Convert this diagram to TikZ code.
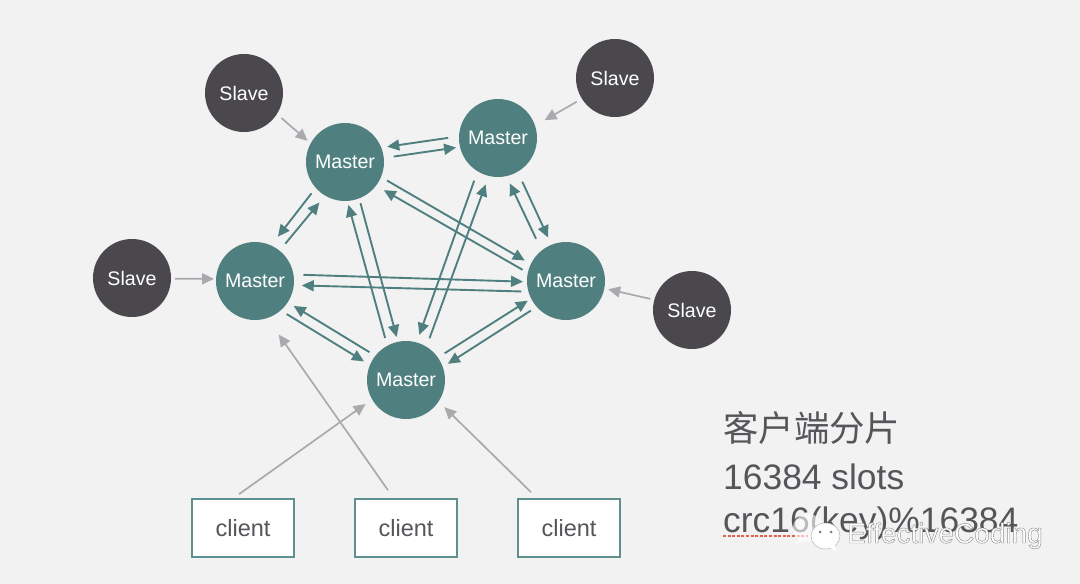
\documentclass[tikz,border=0pt]{standalone}
\usepackage{fontspec}
\setmainfont{Liberation Sans}
\newfontfamily\cjk{Noto Sans CJK SC}
\usetikzlibrary{arrows.meta}
\definecolor{pagebg}{HTML}{F2F2F2}
\definecolor{masterteal}{HTML}{507F80}
\definecolor{slavedark}{HTML}{4A484C}
\definecolor{feedgrey}{HTML}{ABA9AE}
\definecolor{notegrey}{HTML}{55555A}
\definecolor{boxteal}{HTML}{5F8F8F}
\definecolor{squiggle}{HTML}{E8604C}
\tikzset{
	master/.style={circle, fill=masterteal, text=white, minimum size=78pt, inner sep=0pt, outer sep=2pt, text depth=0pt, font=\fontsize{19.6}{22}\selectfont},
	slave/.style={circle, fill=slavedark, text=white, minimum size=78pt, inner sep=0pt, outer sep=2pt, font=\fontsize{19.6}{22}\selectfont},
	clientbox/.style={rectangle, draw=boxteal, fill=white, line width=1.6pt, text=notegrey, minimum width=102pt, minimum height=58pt, inner sep=0pt, font=\fontsize{23.5}{26}\selectfont},
	sync/.style={draw=masterteal, line width=1.9pt, -{Triangle[length=12pt,width=11pt]}},
	feed/.style={draw=feedgrey, line width=1.7pt, -{Triangle[length=12pt,width=11pt]}},
	note/.style={text=notegrey, anchor=base west, inner sep=0pt, font=\fontsize{35.4}{40}\selectfont},
}
\begin{document}
\begin{tikzpicture}[x=1pt, y=-1pt]
	\fill[pagebg] (0, 0) rectangle (1080, 584);
	\useasboundingbox (0, 0) rectangle (1080, 584);

	\node[master] (m1) at (345, 162) {Master};
	\node[master] (m2) at (498, 138) {Master};
	\node[master] (m3) at (255, 281) {Master};
	\node[master] (m4) at (566, 281) {Master};
	\node[master] (m5) at (406, 380) {Master};

	\node[slave] (s1) at (244, 93) {Slave};
	\node[slave] (s2) at (615, 78) {Slave};
	\node[slave] (s3) at (132, 278) {Slave};
	\node[slave] (s4) at (692, 310) {Slave};

	\node[clientbox] (c1) at (243, 528) {client};
	\node[clientbox] (c2) at (406, 528) {client};
	\node[clientbox] (c3) at (569, 528) {client};

	% master pairs
	\draw[sync, shorten <=9pt, shorten >=4pt] (m2.178) -- (m1.21);
	\draw[sync, shorten <=8pt, shorten >=2pt] (m1.6) -- (m2.193);
	\draw[sync, shorten <=5pt, shorten >=9pt] (m1.222) -- (m3.65);
	\draw[sync, shorten <=7pt, shorten >=7pt] (m3.51) -- (m1.239);
	\draw[sync, shorten <=5pt, shorten >=5pt] (m1.337) -- (m4.154);
	\draw[sync, shorten <=4pt, shorten >=7pt] (m4.167) -- (m1.323);
	\draw[sync, shorten <=6pt, shorten >=2pt] (m5.118) -- (m1.274);
	\draw[sync, shorten <=3pt, shorten >=3pt] (m1.291) -- (m5.102);
	\draw[sync, shorten <=8pt, shorten >=6pt] (m2.239) -- (m5.74);
	\draw[sync, shorten <=7pt, shorten >=7pt] (m5.59) -- (m2.256);
	\draw[sync, shorten <=9pt, shorten >=6pt] (m2.300) -- (m4.112);
	\draw[sync, shorten <=11pt, shorten >=6pt] (m4.128) -- (m2.283);
	\draw[sync, shorten <=8pt, shorten >=2pt] (m3.9) -- (m4.181);
	\draw[sync, shorten <=5pt, shorten >=6pt] (m4.195) -- (m3.354);
	\draw[sync, shorten <=5pt, shorten >=5pt] (m3.312) -- (m5.157);
	\draw[sync, shorten <=5pt, shorten >=5pt] (m5.142) -- (m3.327);
	\draw[sync, shorten <=6pt, shorten >=2pt] (m5.35) -- (m4.207);
	\draw[sync, shorten <=5pt, shorten >=4pt] (m4.221) -- (m5.20);

	% slaves and clients
	\draw[feed, shorten <=4pt, shorten >=2pt] (s1.327) -- (m1.151);
	\draw[feed, shorten <=4pt, shorten >=9pt] (s2.212) -- (m2.19);
	\draw[feed, shorten <=2pt] (s3.359) -- (m3.177);
	\draw[feed, shorten <=2pt, shorten >=2pt] (s4.165) -- (m4.349);
	\draw[feed, shorten >=6pt] ([shift={(-4, -4)}]c1.north) -- (m5.210);
	\draw[feed, shorten >=18pt] ([shift={(-18, -8)}]c2.north) -- (m3.289);
	\draw[feed, shorten >=6pt] ([shift={(-38, -6)}]c3.north) -- (m5.326);

	% note
	\node[note] (line1) at (723, 441) {\cjk 客户端分片};
	\node[note] (line2) at (723, 489) {16384 slots};
	\node[note] (line3) at (723, 532) {crc16(key)\%16384};
	\draw[squiggle, line width=2pt, dash pattern=on 3pt off 1.6pt] (723, 535.5) -- (808, 535.5);

	% watermark
	\fill[white, opacity=0.6] (808, 528) ellipse (15 and 14);
	\fill[white, opacity=0.6] (799, 538) -- (795, 544) -- (806, 541) -- cycle;
	\filldraw[white, draw=gray!60, line width=0.5pt] (825.5, 536) ellipse (14.5 and 13);
	\fill[white] (830, 547) -- (836, 552) -- (835, 545) -- cycle;
	\fill[slavedark!70] (820, 532) circle (1.5) (831, 532) circle (1.5);
	\node[text=white, anchor=base west, inner sep=0pt, font=\fontsize{28}{30}\selectfont] (mark) at (847, 543) {\special{pdf:code 2 Tr 0.45 w 0.55 G}EffectiveCoding\special{pdf:code 0 Tr 0 G}};
\end{tikzpicture}
\end{document}
